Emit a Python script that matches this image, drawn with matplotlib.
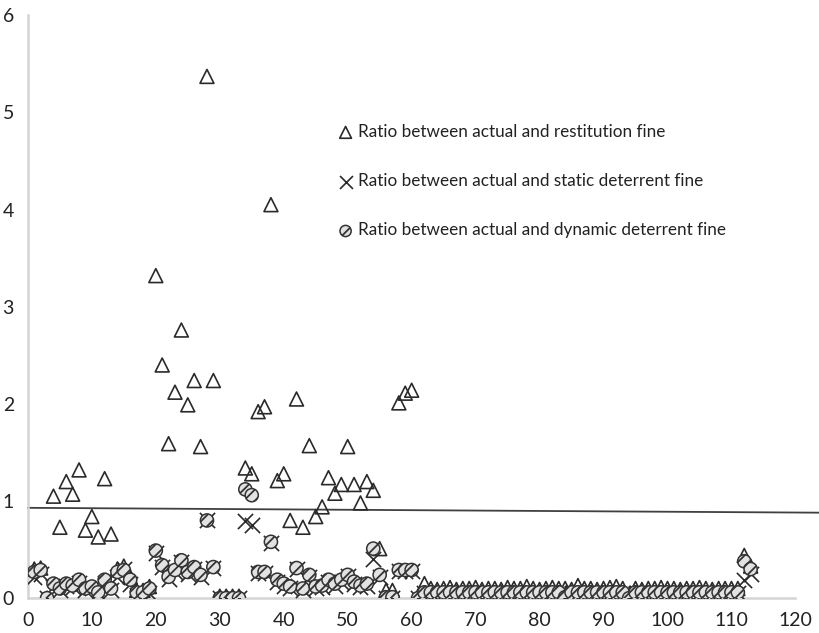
import numpy as np
import matplotlib.pyplot as plt

plt.rcParams['font.family'] = ['Lato', 'DejaVu Sans']
plt.rcParams['hatch.color'] = '#333333'
plt.rcParams['hatch.linewidth'] = 1.3

# case number 1..113
cases = list(range(1, 114))

# ratio between actual and restitution fine
restitution = [
    0.30, 0.31, 0.00, 1.05, 0.73, 1.20, 1.07, 1.32, 0.70, 0.84,
    0.63, 1.23, 0.66, 0.30, 0.33, 0.22, 0.08, 0.08, 0.12, 3.32,
    2.40, 1.59, 2.12, 2.76, 1.99, 2.24, 1.56, 5.37, 2.24, 0.02,
    0.02, 0.02, 0.02, 1.34, 1.28, 1.92, 1.97, 4.05, 1.21, 1.28,
    0.80, 2.05, 0.73, 1.57, 0.84, 0.94, 1.24, 1.08, 1.17, 1.56,
    1.17, 0.98, 1.20, 1.11, 0.51, 0.08, 0.08, 2.01, 2.11, 2.14,
    0.02, 0.15, 0.10, 0.09, 0.10, 0.11, 0.09, 0.10, 0.10, 0.11,
    0.09, 0.10, 0.10, 0.09, 0.11, 0.10, 0.10, 0.12, 0.10, 0.09,
    0.10, 0.11, 0.10, 0.10, 0.09, 0.13, 0.10, 0.10, 0.09, 0.10,
    0.11, 0.12, 0.10, 0.00, 0.10, 0.09, 0.10, 0.10, 0.11, 0.10,
    0.10, 0.09, 0.10, 0.10, 0.11, 0.10, 0.09, 0.10, 0.10, 0.10,
    0.10, 0.44, 0.33,
]

# ratio between actual and static deterrent fine
static = [
    0.22, 0.25, 0.00, 0.12, 0.08, 0.13, 0.11, 0.16, 0.08, 0.10,
    0.05, 0.16, 0.08, 0.22, 0.30, 0.15, 0.03, 0.03, 0.05, 0.47,
    0.32, 0.20, 0.27, 0.37, 0.25, 0.30, 0.22, 0.80, 0.31, 0.00,
    0.00, 0.00, 0.00, 0.79, 0.75, 0.26, 0.26, 0.57, 0.17, 0.13,
    0.10, 0.30, 0.08, 0.22, 0.10, 0.11, 0.17, 0.13, 0.17, 0.23,
    0.15, 0.11, 0.13, 0.40, 0.22, 0.00, 0.00, 0.28, 0.28, 0.28,
    0.00, 0.05, 0.05, 0.05, 0.05, 0.05, 0.05, 0.05, 0.05, 0.05,
    0.05, 0.05, 0.05, 0.05, 0.05, 0.05, 0.05, 0.05, 0.05, 0.05,
    0.05, 0.05, 0.05, 0.00, 0.05, 0.05, 0.05, 0.05, 0.05, 0.05,
    0.05, 0.05, 0.05, 0.00, 0.05, 0.05, 0.05, 0.05, 0.05, 0.05,
    0.05, 0.05, 0.05, 0.05, 0.05, 0.05, 0.05, 0.05, 0.05, 0.05,
    0.05, 0.19, 0.25,
]

# ratio between actual and dynamic deterrent fine
dynamic = [
    0.27, 0.29, 0.00, 0.15, 0.10, 0.15, 0.13, 0.19, 0.10, 0.12,
    0.06, 0.19, 0.10, 0.27, 0.29, 0.19, 0.06, 0.06, 0.10, 0.49,
    0.34, 0.22, 0.29, 0.39, 0.27, 0.32, 0.24, 0.80, 0.32, 0.00,
    0.00, 0.00, 0.00, 1.12, 1.06, 0.27, 0.27, 0.58, 0.19, 0.15,
    0.12, 0.31, 0.10, 0.24, 0.12, 0.13, 0.19, 0.15, 0.19, 0.24,
    0.17, 0.13, 0.15, 0.51, 0.24, 0.01, 0.01, 0.29, 0.29, 0.29,
    0.00, 0.06, 0.06, 0.06, 0.06, 0.06, 0.06, 0.06, 0.06, 0.06,
    0.06, 0.06, 0.06, 0.06, 0.06, 0.06, 0.06, 0.06, 0.06, 0.06,
    0.06, 0.06, 0.06, 0.01, 0.06, 0.06, 0.06, 0.06, 0.06, 0.06,
    0.06, 0.06, 0.06, 0.00, 0.06, 0.06, 0.06, 0.06, 0.06, 0.06,
    0.06, 0.06, 0.06, 0.06, 0.06, 0.06, 0.06, 0.06, 0.06, 0.06,
    0.06, 0.38, 0.30,
]

# reference line (slightly falling)
ref_x = [0, 124]
ref_y = [0.93, 0.88]

x_ticks = [0, 10, 20, 30, 40, 50, 60, 70, 80, 90, 100, 110, 120]
y_ticks = [0, 1, 2, 3, 4, 5, 6]

fig = plt.figure(figsize=(8.2, 6.33), dpi=100)
ax = fig.add_axes([0.034, 0.055, 0.936, 0.921])

ax.scatter(cases, restitution, marker='^', s=100, facecolors='none',
           edgecolors='#2a2a2a', linewidths=1.2,
           label='Ratio between actual and restitution fine', zorder=3)
ax.scatter(cases, static, marker='x', s=120, color='#2a2a2a', linewidths=1.2,
           label='Ratio between actual and static deterrent fine', zorder=3)
ax.scatter(cases, dynamic, marker='o', s=90, facecolors='#e2e2e2',
           edgecolors='#333333', linewidths=1.1, hatch='///',
           label='Ratio between actual and dynamic deterrent fine', zorder=4)

ax.plot(ref_x, ref_y, color='#404040', lw=1.3, clip_on=False, zorder=2)

ax.set_xlim(0, 120)
ax.set_ylim(0, 6)
ax.set_xticks(x_ticks)
ax.set_yticks(y_ticks)
ax.tick_params(length=0, labelsize=14, colors='#222222', pad=10)
ax.tick_params(axis='y', pad=10)

for s in ['top', 'right']:
    ax.spines[s].set_visible(False)
for s in ['left', 'bottom']:
    ax.spines[s].set_color('#d4d4d4')
    ax.spines[s].set_linewidth(1.8)

leg = ax.legend(loc='upper left', bbox_to_anchor=(0.385, 0.84), frameon=False,
                fontsize=12.3, labelspacing=1.95, handlelength=0.8,
                handletextpad=0.3, markerscale=0.85)
for t in leg.get_texts():
    t.set_color('#222222')

fig.savefig('out.png', dpi=100)
